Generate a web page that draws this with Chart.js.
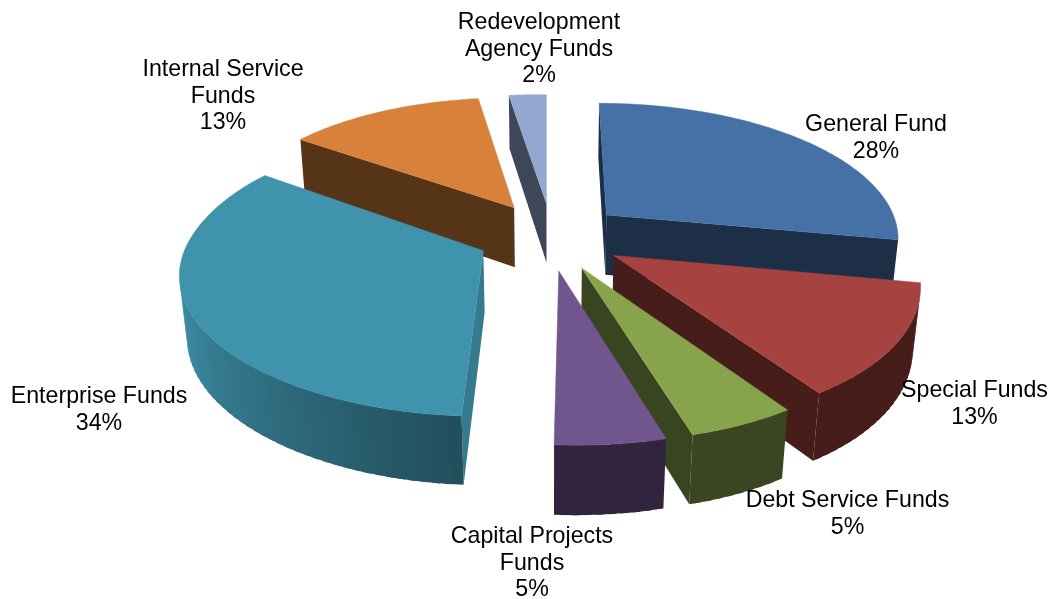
<!DOCTYPE html>
<html>
<head>
<meta charset="utf-8">
<style>
  html, body { margin: 0; padding: 0; background: #fff; }
  #wrap { position: relative; width: 1052px; height: 599px; }
</style>
<script src="https://cdn.jsdelivr.net/npm/chart.js@4"></script>
</head>
<body>
<div id="wrap"><canvas id="funds" width="1052" height="599"></canvas></div>
<script>
// Share of total by fund type, clockwise from twelve o'clock.
const categories = [
  'General Fund', 'Special Funds', 'Debt Service Funds',
  'Capital Projects\nFunds', 'Enterprise Funds',
  'Internal Service\nFunds', 'Redevelopment\nAgency Funds'
];
const values = [28, 13, 5, 5, 34, 13, 2];
const topColors = ['#4571a6', '#a64341', '#87a34c', '#71568d', '#4093ac', '#d8813b', '#92a8d0'];
// Brightness of the straight cut faces of each wedge.
const cutShades = [0.42, 0.43, 0.42, 0.47, 0.83, 0.40, 0.42];
// Anchor of each label block: centre x, first baseline y.
const labelAnchors = [[876, 131], [974.5, 397], [847.5, 507], [532, 543], [99, 403], [223, 76], [539, 29]];

// Ground-plane to screen mapping of the tilted pie.
const view = { cx: 551, cy: 236, sx: 294, sy: 135, k: 0.155, m: 0.02, h: 62, front: 9, back: 9 };

function project(u, v, z) {
  const w = 1 - view.k * v + view.m * z;
  const lean = v > 0 ? view.front * v * v
    : -view.back * Math.pow(-v, 1.5) * Math.min(1, Math.max(0, -u / 0.2));
  return { x: view.cx + (view.sx * u + lean) / w, y: view.cy + (view.sy * v + view.h * z) / w };
}

function shadeColor(hex, f) {
  const n = parseInt(hex.slice(1), 16);
  const c = [n >> 16, (n >> 8) & 255, n & 255].map(x => Math.round(x * f));
  return `rgb(${c[0]},${c[1]},${c[2]})`;
}

// Rim brightness by clock angle: dark at the front, lighter toward the left side.
function rimShade(deg) {
  if (deg < 183.6) return 0.43;
  return Math.min(0.95, 0.53 + (deg - 183.6) / 70 * 0.42);
}

function faceArea(pts) {
  let area = 0;
  pts.forEach((p, i) => {
    const q = pts[(i + 1) % pts.length];
    area += p.x * q.y - q.x * p.y;
  });
  return area;
}

function tracePolygon(ctx, pts, color, edge) {
  ctx.beginPath();
  pts.forEach((p, i) => (i ? ctx.lineTo(p.x, p.y) : ctx.moveTo(p.x, p.y)));
  ctx.closePath();
  ctx.fillStyle = color;
  ctx.fill();
  if (edge) {
    ctx.strokeStyle = color;
    ctx.lineWidth = edge;
    ctx.stroke();
  }
}

const pie3d = {
  id: 'pie3d',
  beforeDatasetsDraw(chart) {
    const ctx = chart.ctx;
    const arcs = chart.getDatasetMeta(0).data.map((arc, i) => {
      const mid = (arc.startAngle + arc.endAngle) / 2;
      const e = arc.options.offset / 4 / arc.outerRadius;
      return { i, a0: arc.startAngle, a1: arc.endAngle, ou: e * Math.cos(mid), ov: e * Math.sin(mid) };
    });
    arcs.sort((p, q) => p.ov - q.ov);

    arcs.forEach(s => {
      const color = topColors[s.i];
      const rim = (a, z) => project(s.ou + Math.cos(a), s.ov + Math.sin(a), z);
      const apex = z => project(s.ou, s.ov, z);
      const cut = shadeColor(color, cutShades[s.i]);

      // straight cut faces, culled when turned away from the viewer
      [[apex(0), apex(1), rim(s.a0, 1), rim(s.a0, 0)],
       [apex(0), rim(s.a1, 0), rim(s.a1, 1), apex(1)]].forEach(face => {
        if (faceArea(face) > 0) tracePolygon(ctx, face, cut);
      });

      // curved outer wall; each facet runs slightly under the next to hide seams
      const step = Math.PI / 90;
      const n = Math.max(1, Math.ceil((s.a1 - s.a0) / step));
      for (let j = 0; j < n; j++) {
        const a = s.a0 + (s.a1 - s.a0) * j / n;
        const b = s.a0 + (s.a1 - s.a0) * (j + 1) / n;
        const over = Math.min(s.a1, b + step * 0.6);
        if (faceArea([rim(a, 0), rim(a, 1), rim(b, 1), rim(b, 0)]) <= 0) continue;
        const deg = (((a + b) / 2 + Math.PI / 2) * 180 / Math.PI + 360) % 360;
        tracePolygon(ctx, [rim(a, 0), rim(a, 1), rim(over, 1), rim(over, 0)], shadeColor(color, rimShade(deg)));
      }

      // top surface, with a hairline edge so no pale seam shows against the walls
      const outline = [apex(0)];
      for (let j = 0; j <= n * 2; j++) outline.push(rim(s.a0 + (s.a1 - s.a0) * j / (n * 2), 0));
      tracePolygon(ctx, outline, color, 0.5);
    });
    return false;
  },
  afterDraw(chart) {
    const ctx = chart.ctx;
    ctx.save();
    ctx.font = '23.2px "Liberation Sans", Arial, sans-serif';
    ctx.fillStyle = '#000';
    ctx.textAlign = 'center';
    ctx.textBaseline = 'alphabetic';
    categories.forEach((name, i) => {
      const lines = name.split('\n').concat(values[i] + '%');
      lines.forEach((line, j) => ctx.fillText(line, labelAnchors[i][0], labelAnchors[i][1] + j * 26.7));
    });
    ctx.restore();
  }
};

new Chart(document.getElementById('funds'), {
  type: 'pie',
  data: {
    labels: categories.map(c => c.replace('\n', ' ')),
    datasets: [{ data: values, backgroundColor: topColors, borderWidth: 0, offset: 200 }]
  },
  options: {
    responsive: false,
    animation: false,
    plugins: { legend: { display: false }, tooltip: { enabled: false } }
  },
  plugins: [pie3d]
});
</script>
</body>
</html>
